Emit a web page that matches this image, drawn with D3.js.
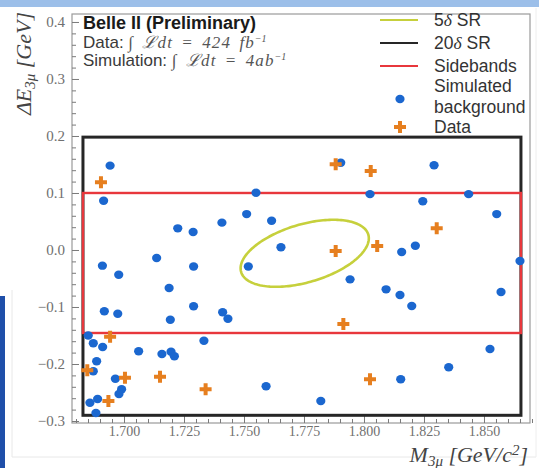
<!DOCTYPE html>
<html><head><meta charset="utf-8">
<script src="https://cdn.jsdelivr.net/npm/d3@7"></script>
<style>body{margin:0;background:#fff;} svg{display:block;}</style>
</head><body>
<script>
// ---- data ----
const simX = [1.6942,1.6915,1.7550,1.7224,1.7288,1.7408,1.7511,1.7615,1.7654,1.7136,
  1.7903,1.8292,1.8025,1.8436,1.8245,1.8553,1.8214,1.8157,1.8650,1.7518,
  1.7942,1.8092,1.8150,1.6910,1.6978,1.7290,1.7188,1.6918,1.6974,1.7290,
  1.7193,1.7411,1.7433,1.6851,1.6872,1.6911,1.7333,1.7061,1.7158,1.7196,
  1.7210,1.6886,1.6872,1.6964,1.7592,1.6990,1.6979,1.6890,1.6858,1.6883,
  1.8199,1.8571,1.8525,1.8353,1.8153,1.7820];
const simY = [0.148,0.0865,0.1005,0.038,0.0316,0.048,0.063,0.0514,0.0047,-0.014,
  0.153,0.1486,0.098,0.098,0.0854,0.063,0.0075,-0.0035,-0.0193,-0.029,
  -0.0515,-0.069,-0.079,-0.0275,-0.0433,-0.029,-0.0667,-0.1075,-0.1118,-0.0988,
  -0.1223,-0.1093,-0.1205,-0.150,-0.1637,-0.1702,-0.1591,-0.1777,-0.1825,-0.1784,
  -0.1865,-0.1953,-0.2128,-0.2258,-0.2391,-0.2444,-0.2526,-0.2614,-0.2679,-0.286,
  -0.0982,-0.0737,-0.1737,-0.2058,-0.2268,-0.2649];
const dataX = [1.6904,1.7882,1.8028,1.8303,1.8055,1.7882,1.7914,1.6942,1.6847,1.7004,1.7150,1.7340,1.6935,1.8025];
const dataY = [0.1188,0.1504,0.1386,0.038,0.007,-0.0018,-0.1298,-0.1521,-0.211,-0.224,-0.2223,-0.2444,-0.265,-0.2268];
const xTicks = [1.700,1.725,1.750,1.775,1.800,1.825,1.850];
const yTicks = [-0.3,-0.2,-0.1,0.0,0.1,0.2,0.3,0.4];
const box20 = [1.6829, 1.8654, -0.290, 0.198];   // x0, x1, y0, y1
const boxSide = [1.6829, 1.8654, -0.1456, 0.100];
const ell5 = [1.7753, -0.0058, 0.0265, 0.0328, -0.0034, 0.0488]; // cx, cy, major(dx,dy), minor(dx,dy)
const legendNames = ["5δ SR","20δ SR","Sidebands","Simulated background","Data"];

// ---- drawing ----
const W = 539, H = 468;
const svg = d3.select("body").append("svg").attr("width", W).attr("height", H);
const C = {blue:"#1b67cf", orange:"#e67f1f", ell:"#c6d03c", red:"#e8373c", black:"#262626", frame:"#9a9a9a", tick:"#7a7a7a", txt:"#333"};

// slide decorations
svg.append("rect").attr("x",0).attr("y",0).attr("width",W).attr("height",H).attr("fill","#fff");
svg.append("rect").attr("x",0).attr("y",0).attr("width",W).attr("height",7).attr("fill","#9cbfe9");
svg.append("line").attr("x1",12).attr("x2",12).attr("y1",290).attr("y2",457).attr("stroke","#e8e8e8");
svg.append("line").attr("x1",12).attr("x2",536).attr("y1",457).attr("y2",457).attr("stroke","#e8e8e8");
svg.append("line").attr("x1",536).attr("x2",536).attr("y1",8).attr("y2",457).attr("stroke","#eeeeee");
svg.append("rect").attr("x",0).attr("y",296).attr("width",5).attr("height",H-296).attr("fill","#1f4fa9");

const x = d3.scaleLinear().domain([1.67833, 1.86917]).range([72, 530]);
const y = d3.scaleLinear().domain([-0.3035, 0.414]).range([423, 14]);

// frame
svg.append("rect").attr("x",x.range()[0]).attr("y",y.range()[1])
  .attr("width",x.range()[1]-x.range()[0]).attr("height",y.range()[0]-y.range()[1])
  .attr("fill","#fff").attr("stroke",C.frame).attr("stroke-width",1.2);

// axes
const minorX = d3.range(1.680, 1.8701, 0.005).filter(v => !xTicks.some(t => Math.abs(t-v)<1e-6));
const minorY = d3.range(-0.30, 0.4101, 0.02).filter(v => !yTicks.some(t => Math.abs(t-v)<1e-6));
const gx = svg.append("g").attr("transform",`translate(0,${y.range()[0]})`);
gx.call(d3.axisBottom(x).tickValues(xTicks).tickFormat(d3.format(".3f")).tickSizeInner(-7).tickSizeOuter(0).tickPadding(3));
const gxm = svg.append("g").attr("transform",`translate(0,${y.range()[0]})`);
gxm.call(d3.axisBottom(x).tickValues(minorX).tickFormat("").tickSizeInner(-4).tickSizeOuter(0));
const gy = svg.append("g").attr("transform",`translate(${x.range()[0]},0)`);
gy.call(d3.axisLeft(y).tickValues(yTicks).tickFormat(d3.format(".1f")).tickSizeInner(-7).tickSizeOuter(0).tickPadding(5));
const gym = svg.append("g").attr("transform",`translate(${x.range()[0]},0)`);
gym.call(d3.axisLeft(y).tickValues(minorY).tickFormat("").tickSizeInner(-4).tickSizeOuter(0));
[gx,gxm,gy,gym].forEach(g => {
  g.select(".domain").remove();
  g.selectAll(".tick line").attr("stroke",C.tick).attr("stroke-width",1);
  g.selectAll(".tick text").attr("fill","#707070").attr("font-family","'Liberation Serif', serif").attr("font-size",14);
});
gy.selectAll(".tick text").attr("dx",-2).attr("font-size",15);

// boxes
function boxRect(b, col, w){
  svg.append("rect").attr("x",x(b[0])).attr("y",y(b[3]))
    .attr("width",x(b[1])-x(b[0])).attr("height",y(b[2])-y(b[3]))
    .attr("fill","none").attr("stroke",col).attr("stroke-width",w);
}
boxRect(box20, C.black, 3);
boxRect(boxSide, C.red, 2.4);

// ellipse
const tt = d3.range(0, 2*Math.PI+0.001, Math.PI/90);
const ellPts = tt.map(t => [ell5[0] + Math.cos(t)*ell5[2] + Math.sin(t)*ell5[4],
                            ell5[1] + Math.cos(t)*ell5[3] + Math.sin(t)*ell5[5]]);
svg.append("path").attr("d", d3.line().x(d=>x(d[0])).y(d=>y(d[1]))(ellPts))
  .attr("fill","none").attr("stroke",C.ell).attr("stroke-width",2.6);

// points
svg.append("g").selectAll("ellipse").data(simX.map((v,i)=>[v,simY[i]])).join("ellipse")
  .attr("cx",d=>x(d[0])).attr("cy",d=>y(d[1])).attr("rx",4.6).attr("ry",4.2).attr("fill",C.blue);
const cross = d3.symbol().type(d3.symbolCross).size(80);
svg.append("g").selectAll("path").data(dataX.map((v,i)=>[v,dataY[i]])).join("path")
  .attr("transform",d=>`translate(${x(d[0])},${y(d[1])})`).attr("d",cross).attr("fill",C.orange);

// header text
const hdr = svg.append("g").attr("font-family","'Liberation Sans', Arial, sans-serif").attr("font-size",17);
hdr.append("text").attr("x",83).attr("y",29).attr("font-weight","bold").attr("font-size",18).attr("fill","#1a1a1a").text("Belle II (Preliminary)");
function mathLine(yy, label, lum, sup){
  const t = hdr.append("text").attr("x",83).attr("y",yy).attr("fill","#3a3a3a");
  t.append("tspan").text(label + " ");
  const m = t.append("tspan").attr("font-family","'Liberation Serif', serif").attr("font-style","italic")
    .attr("font-size",17).attr("fill","#555").attr("letter-spacing",1.1).attr("word-spacing",3);
  m.append("tspan").text("∫ ");
  m.append("tspan").text("ℒdt = " + lum);
  t.append("tspan").attr("font-family","'Liberation Serif', serif").attr("font-style","italic").attr("font-size",10).attr("dy",-6).attr("fill","#555").text(sup);
}
mathLine(48, "Data:", "424 fb", "−1");
mathLine(66, "Simulation:", "4ab", "−1");

// legend
const lg = svg.append("g").attr("font-family","'Liberation Sans', Arial, sans-serif").attr("font-size",17.5).attr("fill",C.txt);
const lineCols = [C.ell, C.black, C.red];
const lineYs = [20, 43, 66];
lineCols.forEach((c,i)=>{
  lg.append("line").attr("x1",380).attr("x2",418).attr("y1",lineYs[i]).attr("y2",lineYs[i]).attr("stroke",c).attr("stroke-width",2.2);
});
function lgText(yy, parts){
  const t = lg.append("text").attr("x",434).attr("y",yy);
  parts.forEach(p => { const s = t.append("tspan").text(p[0]); if(p[1]) s.attr("font-family","'Liberation Serif', serif").attr("font-style","italic"); });
}
lgText(26, [["5"],["δ",1],[" SR"]]);
lgText(49, [["20"],["δ",1],[" SR"]]);
lgText(72, [[legendNames[2]]]);
const sb = legendNames[3].split(" ");
lgText(92, [[sb[0]]]);
lgText(112.5, [[sb[1]]]);
lgText(133, [[legendNames[4]]]);
lg.append("ellipse").attr("cx",400).attr("cy",99).attr("rx",4.6).attr("ry",4.2).attr("fill",C.blue);
lg.append("path").attr("transform","translate(400,127)").attr("d",cross).attr("fill",C.orange);

// axis labels
const ax = svg.append("g").attr("font-family","'Liberation Serif', serif").attr("font-style","italic").attr("fill","#444").attr("font-size",22);
const yl = ax.append("text").attr("transform","translate(31,12) rotate(-90)").attr("text-anchor","end");
yl.append("tspan").text("ΔE");
yl.append("tspan").attr("font-size",15).attr("dy",4).text("3μ");
yl.append("tspan").attr("dy",-4).text(" [GeV]");
const xl = ax.append("text").attr("x",528).attr("y",462).attr("text-anchor","end");
xl.append("tspan").text("M");
xl.append("tspan").attr("font-size",15).attr("dy",4).text("3μ");
xl.append("tspan").attr("dy",-4).text(" [GeV/c");
xl.append("tspan").attr("font-size",15).attr("dy",-7).text("2");
xl.append("tspan").attr("dy",7).text("]");
</script>
</body></html>
